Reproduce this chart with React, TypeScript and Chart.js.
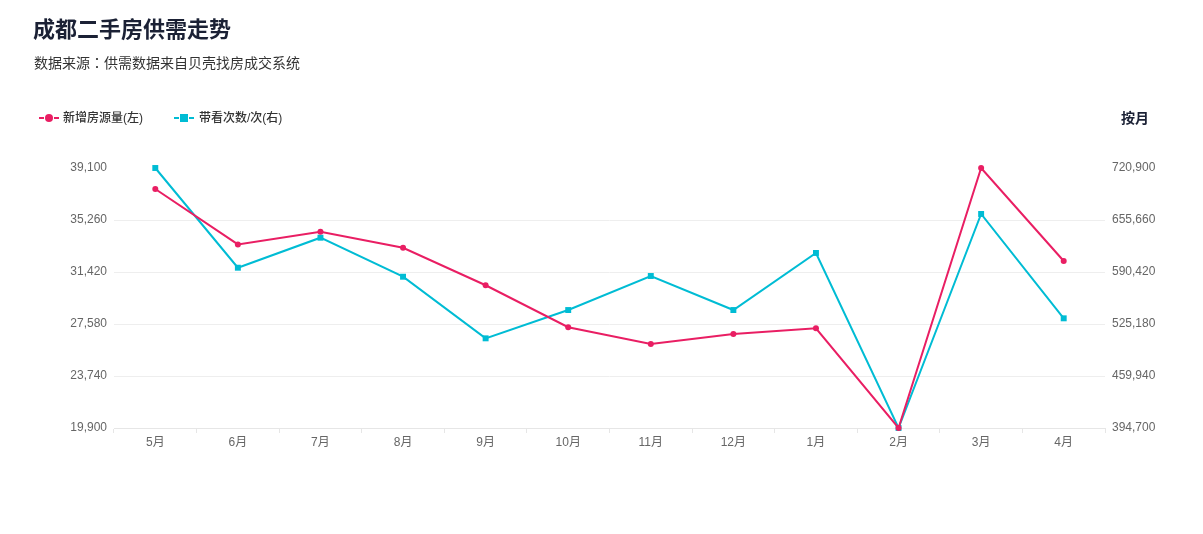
import React, { useEffect, useRef } from "react";
import { Chart, registerables } from "chart.js";

Chart.register(...registerables);

const categories = ["5月", "6月", "7月", "8月", "9月", "10月", "11月", "12月", "1月", "2月", "3月", "4月"];
const newListings = [37550, 33460, 34400, 33210, 30440, 27340, 26100, 26840, 27260, 19900, 39100, 32230];
const viewings = [720900, 595800, 633450, 584500, 507200, 542700, 585400, 542700, 614300, 394700, 663200, 532300];
const leftTicks = [19900, 23740, 27580, 31420, 35260, 39100];
const rightTicks = [394700, 459940, 525180, 590420, 655660, 720900];

const RED = "#e91e63";
const CYAN = "#00bcd4";
const FONT = "'Liberation Sans', 'Noto Sans CJK SC', sans-serif";
const CJK = "'Noto Sans CJK SC', 'Liberation Sans', sans-serif";

const fmt = (v: number) => v.toLocaleString("en-US");

export default function App() {
  const ref = useRef<HTMLCanvasElement | null>(null);

  useEffect(() => {
    if (!ref.current) return;
    const chart = new Chart(ref.current, {
      type: "line",
      data: {
        labels: categories,
        datasets: [
          {
            label: "新增房源量(左)",
            data: newListings,
            borderColor: RED,
            backgroundColor: RED,
            borderWidth: 2,
            pointStyle: "circle",
            pointRadius: 3,
            pointHoverRadius: 3,
            pointBorderWidth: 0,
            tension: 0,
            clip: false,
            yAxisID: "yL",
          },
          {
            label: "带看次数/次(右)",
            data: viewings,
            borderColor: CYAN,
            backgroundColor: CYAN,
            borderWidth: 2,
            pointStyle: "rect",
            pointRadius: 4.2,
            pointHoverRadius: 4.2,
            pointBorderWidth: 0,
            tension: 0,
            clip: false,
            yAxisID: "yR",
          },
        ],
      },
      options: {
        animation: false,
        responsive: false,
        maintainAspectRatio: false,
        layout: { padding: { top: 168, bottom: 76, left: 0, right: 0 } },
        plugins: { legend: { display: false }, title: { display: false }, tooltip: { enabled: false } },
        scales: {
          x: {
            type: "category",
            offset: true,
            grid: { offset: true, drawOnChartArea: false, drawTicks: true, tickLength: 5, color: "#e6e6e6" },
            border: { color: "#e6e6e6" },
            ticks: { color: "#666", font: { size: 12, family: FONT }, padding: 2, maxRotation: 0 },
            afterFit: (s: any) => { s.height = 30; },
          },
          yL: {
            type: "linear",
            position: "left",
            min: 19900,
            max: 39100,
            afterBuildTicks: (s: any) => { s.ticks = leftTicks.map((v) => ({ value: v })); },
            grid: {
              drawTicks: false,
              color: (c: any) => (c.tick && c.tick.value === 39100 ? "rgba(0,0,0,0)" : "#eeeeee"),
            },
            border: { display: false },
            ticks: { color: "#666", font: { size: 12, family: FONT }, padding: 7, callback: (v: any) => fmt(Number(v)) },
            afterFit: (s: any) => { s.width = 114; },
          },
          yR: {
            type: "linear",
            position: "right",
            min: 394700,
            max: 720900,
            afterBuildTicks: (s: any) => { s.ticks = rightTicks.map((v) => ({ value: v })); },
            grid: { drawOnChartArea: false, drawTicks: false },
            border: { display: false },
            ticks: { color: "#666", font: { size: 12, family: FONT }, padding: 7, callback: (v: any) => fmt(Number(v)) },
            afterFit: (s: any) => { s.width = 98; },
          },
        },
      },
    } as any);
    return () => chart.destroy();
  }, []);

  const abs = (l: number, t: number): React.CSSProperties => ({ position: "absolute", left: l, top: t, whiteSpace: "nowrap" });

  return (
    <div style={{ position: "absolute", left: 0, top: 0, width: 1203, height: 534, background: "#fff", fontFamily: FONT }}>
      <canvas ref={ref} width={1203} height={534} style={{ position: "absolute", left: 0, top: 0, width: 1203, height: 534 }} />
      <div style={{ ...abs(33, 13), fontSize: 22, fontWeight: 700, color: "#1b2135", lineHeight: "28px", fontFamily: CJK }}>成都二手房供需走势</div>
      <div style={{ ...abs(34, 53), fontSize: 14, color: "#333", lineHeight: "18px", fontFamily: CJK }}>
        数据来源<span style={{ display: "inline-block", width: 14, textAlign: "center", fontFamily: "'Noto Sans CJK TC', sans-serif" }}>：</span>供需数据来自贝壳找房成交系统
      </div>

      <div style={{ ...abs(39, 110), height: 16, width: 21 }}>
        <div style={{ position: "absolute", left: 0, top: 7, width: 5, height: 2, background: RED }} />
        <div style={{ position: "absolute", left: 6, top: 4, width: 8, height: 8, borderRadius: 4, background: RED }} />
        <div style={{ position: "absolute", left: 15, top: 7, width: 5, height: 2, background: RED }} />
      </div>
      <div style={{ ...abs(63, 110), fontSize: 12, color: "#333", lineHeight: "16px", fontWeight: 500 }}>新增房源量(左)</div>

      <div style={{ ...abs(174, 110), height: 16, width: 21 }}>
        <div style={{ position: "absolute", left: 0, top: 7, width: 5, height: 2, background: CYAN }} />
        <div style={{ position: "absolute", left: 6, top: 4, width: 8, height: 8, background: CYAN }} />
        <div style={{ position: "absolute", left: 15, top: 7, width: 5, height: 2, background: CYAN }} />
      </div>
      <div style={{ ...abs(199, 110), fontSize: 12, color: "#333", lineHeight: "16px", fontWeight: 500 }}>带看次数/次(右)</div>

      <div style={{ ...abs(1121, 109), fontSize: 14, fontWeight: 700, color: "#1b2135", lineHeight: "18px" }}>按月</div>
    </div>
  );
}
